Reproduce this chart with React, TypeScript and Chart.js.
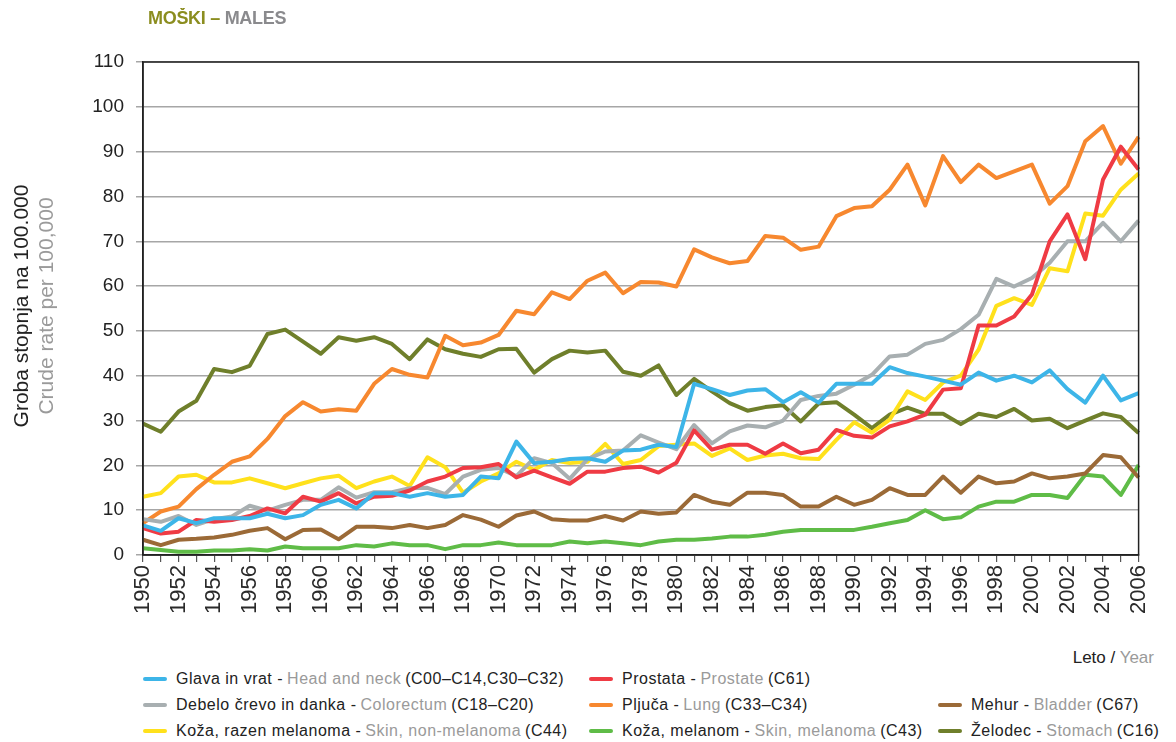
import React, { useEffect, useRef } from "react";
import { Chart, registerables } from "chart.js";

Chart.register(...registerables);

const years: string[] = [];
for (let y = 1950; y <= 2006; y++) years.push(String(y));

const headNeck = [
  6.6, 5.4, 8.2, 7.1, 8.2, 8.2, 8.2, 9.2, 8.2, 8.9,
  11.2, 12.3, 10.4, 13.8, 13.8, 13.0, 13.8, 13.0, 13.4, 17.5,
  17.1, 25.3, 20.5, 20.8, 21.4, 21.6, 20.8, 23.3, 23.5, 24.6,
  24.1, 38.2, 37.0, 35.7, 36.7, 37.0, 34.1, 36.3, 34.0, 38.2,
  38.2, 38.2, 41.9, 40.6, 39.8, 38.9, 38.0, 40.7, 38.9, 40.0,
  38.5, 41.2, 37.0, 34.0, 40.0, 34.5, 36.1,
];
const prostate = [
  6.0, 4.8, 5.2, 7.8, 7.4, 7.8, 8.7, 10.4, 9.3, 13.0,
  11.9, 13.8, 11.5, 13.0, 13.2, 14.4, 16.4, 17.5, 19.4, 19.6,
  20.3, 17.3, 18.8, 17.3, 15.9, 18.6, 18.6, 19.4, 19.7, 18.4,
  20.6, 27.8, 23.5, 24.6, 24.6, 22.6, 24.9, 22.7, 23.5, 27.9,
  26.6, 26.2, 28.7, 29.8, 31.3, 36.9, 37.2, 51.2, 51.2, 53.2,
  58.1, 70.0, 76.0, 66.0, 83.8, 91.1, 86.0,
];
const colorectum = [
  8.0, 7.4, 8.7, 6.7, 8.0, 8.6, 11.0, 9.9, 11.2, 12.3,
  12.3, 15.1, 12.8, 14.0, 14.0, 14.9, 15.0, 13.6, 17.5, 19.0,
  19.4, 17.6, 21.6, 20.5, 17.0, 21.4, 23.1, 23.3, 26.7, 25.1,
  23.6, 29.0, 24.9, 27.6, 28.9, 28.5, 30.0, 34.6, 35.5, 36.0,
  38.0, 40.2, 44.3, 44.7, 47.1, 48.0, 50.4, 53.6, 61.6, 59.9,
  61.8, 65.2, 70.0, 70.0, 74.1, 70.0, 74.6,
];
const lung = [
  7.1, 9.7, 10.8, 14.7, 17.9, 20.8, 22.0, 25.9, 31.0, 34.1,
  32.0, 32.5, 32.2, 38.2, 41.5, 40.2, 39.6, 48.9, 46.8, 47.4,
  49.1, 54.5, 53.7, 58.6, 57.1, 61.2, 63.0, 58.4, 60.9, 60.8,
  59.9, 68.2, 66.4, 65.1, 65.6, 71.2, 70.8, 68.1, 68.8, 75.6,
  77.4, 77.8, 81.5, 87.1, 78.0, 89.0, 83.2, 87.1, 84.1, 85.6,
  87.1, 78.4, 82.3, 92.3, 95.7, 87.3, 93.3,
];
const bladder = [
  3.4, 2.2, 3.4, 3.6, 3.9, 4.5, 5.4, 6.0, 3.5, 5.6,
  5.7, 3.5, 6.3, 6.3, 6.0, 6.7, 6.0, 6.7, 8.9, 7.9,
  6.3, 8.8, 9.7, 8.0, 7.7, 7.7, 8.7, 7.7, 9.7, 9.2,
  9.5, 13.4, 11.9, 11.2, 13.9, 13.9, 13.4, 10.8, 10.8, 13.0,
  11.2, 12.3, 14.9, 13.4, 13.4, 17.5, 13.9, 17.5, 16.0, 16.4,
  18.2, 17.1, 17.5, 18.2, 22.3, 21.8, 17.3,
];
const skinNonMelanoma = [
  13.0, 13.8, 17.5, 17.9, 16.2, 16.2, 17.1, 16.0, 14.9, 16.0,
  17.1, 17.7, 14.9, 16.4, 17.5, 15.4, 21.8, 19.6, 13.9, 16.4,
  18.2, 20.8, 19.0, 21.2, 20.5, 20.8, 24.8, 20.3, 21.2, 24.3,
  24.6, 24.9, 22.1, 23.8, 21.2, 22.2, 22.6, 21.6, 21.4, 25.7,
  29.6, 27.3, 30.2, 36.5, 34.6, 38.5, 40.0, 45.8, 55.6, 57.3,
  55.8, 64.0, 63.3, 76.2, 75.7, 81.5, 85.1,
];
const melanoma = [
  1.5, 1.1, 0.7, 0.7, 1.0, 1.0, 1.3, 1.0, 1.9, 1.5,
  1.5, 1.5, 2.2, 1.9, 2.6, 2.2, 2.2, 1.3, 2.2, 2.2,
  2.8, 2.2, 2.2, 2.2, 3.0, 2.6, 3.0, 2.6, 2.2, 3.0,
  3.4, 3.4, 3.7, 4.1, 4.1, 4.5, 5.2, 5.6, 5.6, 5.6,
  5.6, 6.3, 7.1, 7.8, 10.0, 8.0, 8.4, 10.8, 11.9, 11.9,
  13.4, 13.4, 12.7, 17.9, 17.5, 13.4, 20.1,
];
const stomach = [
  29.3, 27.5, 32.0, 34.4, 41.5, 40.8, 42.2, 49.3, 50.3, 47.6,
  44.9, 48.6, 47.8, 48.6, 47.1, 43.7, 48.1, 45.9, 44.9, 44.2,
  45.9, 46.0, 40.7, 43.7, 45.6, 45.2, 45.6, 40.9, 40.0, 42.3,
  35.7, 39.3, 36.5, 33.9, 32.2, 33.0, 33.4, 29.8, 33.8, 34.1,
  31.3, 28.3, 31.3, 32.9, 31.5, 31.5, 29.2, 31.5, 30.8, 32.6,
  30.0, 30.4, 28.3, 30.0, 31.6, 30.8, 27.2,
];

const yTicks = [0, 10, 20, 30, 40, 50, 60, 70, 80, 90, 100, 110];

type Series = { sl: string; en: string; code: string; color: string; data: number[] };

const seriesList: Series[] = [
  { sl: "Glava in vrat", en: "Head and neck", code: "(C00–C14,C30–C32)", color: "#3db5e8", data: headNeck },
  { sl: "Prostata", en: "Prostate", code: "(C61)", color: "#ef3b44", data: prostate },
  { sl: "Debelo črevo in danka", en: "Colorectum", code: "(C18–C20)", color: "#a8afb1", data: colorectum },
  { sl: "Pljuča", en: "Lung", code: "(C33–C34)", color: "#f7882f", data: lung },
  { sl: "Mehur", en: "Bladder", code: "(C67)", color: "#9b6a37", data: bladder },
  { sl: "Koža, razen melanoma", en: "Skin, non-melanoma", code: "(C44)", color: "#ffe11c", data: skinNonMelanoma },
  { sl: "Koža, melanom", en: "Skin, melanoma", code: "(C43)", color: "#5fbc47", data: melanoma },
  { sl: "Želodec", en: "Stomach", code: "(C16)", color: "#6f7f2b", data: stomach },
];

// legend layout: [seriesIndex, column, row]
const legendPlacement: [number, number, number][] = [
  [0, 0, 0], [1, 1, 0],
  [2, 0, 1], [3, 1, 1], [4, 2, 1],
  [5, 0, 2], [6, 1, 2], [7, 2, 2],
];
const legendColX = [135, 581, 930];
const legendRowY = [671, 697, 723];

const FONT = "'Liberation Sans', Arial, Helvetica, sans-serif";
const BLACK = "#222222";
const GREY = "#9a9a9a";

const frame = {
  id: "frame",
  afterDraw(chart: any) {
    const { ctx, chartArea } = chart;
    ctx.save();
    ctx.strokeStyle = "#222";
    ctx.lineWidth = 1.5;
    ctx.strokeRect(chartArea.left, chartArea.top, chartArea.right - chartArea.left, chartArea.bottom - chartArea.top);
    ctx.restore();
  },
};

export default function App() {
  const ref = useRef<HTMLCanvasElement | null>(null);

  useEffect(() => {
    if (!ref.current) return;
    Chart.defaults.font.family = FONT;
    const chart = new Chart(ref.current, {
      type: "line",
      data: {
        labels: years,
        datasets: seriesList.map((s) => ({
          label: s.sl,
          data: s.data,
          borderColor: s.color,
          backgroundColor: s.color,
          borderWidth: 4,
          pointRadius: 0,
          tension: 0,
          fill: false,
          borderJoinStyle: "round" as const,
        })),
      },
      options: {
        responsive: false,
        animation: false,
        devicePixelRatio: 1,
        layout: { padding: { left: 0, top: 54, right: 14, bottom: 0 } },
        plugins: { legend: { display: false }, title: { display: false }, tooltip: { enabled: false } },
        scales: {
          x: {
            type: "category",
            offset: false,
            afterFit: (s: any) => { s.height = 73; },
            ticks: {
              autoSkip: false,
              maxRotation: 90,
              minRotation: 90,
              padding: 3,
              color: "#2a2a2a",
              font: { size: 22, family: FONT },
              callback: (_v: any, i: number) => (i % 2 === 0 ? years[i] : ""),
            },
            grid: { drawOnChartArea: false, drawTicks: true, tickLength: 7, color: "#555", lineWidth: 1.2 },
            border: { display: true, color: "#222", width: 1.5 },
          },
          y: {
            min: 0,
            max: 110,
            afterFit: (s: any) => { s.width = 135; },
            afterBuildTicks: (s: any) => { s.ticks = yTicks.map((v) => ({ value: v })); },
            ticks: { padding: 12, color: BLACK, font: { size: 19, family: FONT } },
            grid: { color: "#a6a6a6", lineWidth: 1.5, tickLength: 7 },
            border: { display: true, color: "#222", width: 1.5 },
          },
        },
      },
      plugins: [frame],
    });
    return () => chart.destroy();
  }, []);

  return (
    <div style={{ position: "relative", width: 1160, height: 734, fontFamily: FONT }}>
      <canvas ref={ref} width={1160} height={620} style={{ position: "absolute", left: 0, top: 0, width: 1160, height: 620 }} />
      <div style={{ position: "absolute", left: 140, top: -1, fontSize: 18, fontWeight: "bold", lineHeight: "22px", whiteSpace: "nowrap", letterSpacing: "-0.3px" }}>
        <span style={{ color: "#8b8d1f" }}>MOŠKI –</span> <span style={{ color: "#8a8a8d" }}>MALES</span>
      </div>
      <div
        style={{
          position: "absolute",
          left: 25 - 170,
          top: 298 - 25,
          width: 340,
          height: 50,
          transform: "rotate(-90deg)",
          textAlign: "center",
          fontSize: 21,
          lineHeight: "25px",
          whiteSpace: "nowrap",
        }}
      >
        <div style={{ color: BLACK }}>Groba stopnja na 100.000</div>
        <div style={{ color: GREY }}>Crude rate per 100,000</div>
      </div>
      <div style={{ position: "absolute", right: 14, top: 640, fontSize: 17, lineHeight: "20px", whiteSpace: "nowrap" }}>
        <span style={{ color: BLACK }}>Leto / </span>
        <span style={{ color: GREY }}>Year</span>
      </div>
      {legendPlacement.map(([si, col, row]) => {
        const s = seriesList[si];
        return (
          <div key={si} style={{ position: "absolute", left: legendColX[col], top: legendRowY[row] - 10, height: 20, display: "flex", alignItems: "center", whiteSpace: "nowrap", fontSize: 16, letterSpacing: "0.5px" }}>
            <span style={{ display: "inline-block", width: 24, height: 4, borderRadius: 2, background: s.color, marginRight: 9 }} />
            <span style={{ color: BLACK }}>{s.sl} - </span>
            <span style={{ color: GREY, marginLeft: 4 }}>{s.en}</span>
            <span style={{ color: BLACK, marginLeft: 4 }}>{s.code}</span>
          </div>
        );
      })}
    </div>
  );
}
